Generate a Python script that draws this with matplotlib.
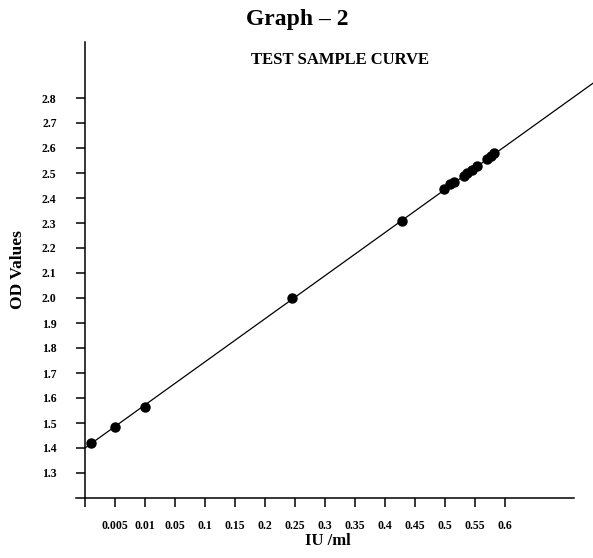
import numpy as np
import matplotlib

matplotlib.use("Agg")
import matplotlib.pyplot as plt

# x axis is not linear: each listed concentration sits one step apart
TICK_VALUES = [0, 0.005, 0.01, 0.05, 0.1, 0.15, 0.2, 0.25, 0.3, 0.35, 0.4, 0.45, 0.5, 0.55, 0.6]
TICK_LABELS = ["", "0.005", "0.01", "0.05", "0.1", "0.15", "0.2", "0.25", "0.3", "0.35",
               "0.4", "0.45", "0.5", "0.55", "0.6"]
Y_TICKS = [1.3, 1.4, 1.5, 1.6, 1.7, 1.8, 1.9, 2.0, 2.1, 2.2, 2.3, 2.4, 2.5, 2.6, 2.7, 2.8]

# test samples (IU/ml, OD)
sample_conc = [0.001, 0.005, 0.01, 0.245, 0.428, 0.499, 0.508, 0.515, 0.531, 0.537,
               0.545, 0.553, 0.570, 0.576, 0.582]
sample_od = [1.42, 1.485, 1.565, 2.0, 2.31, 2.437, 2.457, 2.466, 2.49, 2.50,
             2.514, 2.527, 2.556, 2.57, 2.58]

# fitted line, in axis steps
fit_steps = [0.0, 17.5]
fit_od = [1.40, 2.908]

FONT = "Liberation Serif"

W, H = 593, 558
fig = plt.figure(figsize=(W / 100, H / 100), dpi=100)
ax = fig.add_axes([76 / W, 60 / H, (W - 76) / W, (498 - 42) / H])

steps = np.arange(len(TICK_VALUES))
sample_x = np.interp(sample_conc, TICK_VALUES, steps)

ax.plot(fit_steps, fit_od, color="black", linewidth=0.9)
ax.plot(sample_x, sample_od, "o", color="black", markersize=6.5, linestyle="none")

ax.set_xlim(-0.3, (W - 85) / 30)
ax.set_ylim(1.2, 3.024)

ax.spines["top"].set_visible(False)
ax.spines["right"].set_visible(False)
ax.spines["left"].set_position(("data", 0))
ax.spines["bottom"].set_bounds(-0.3, 16.3)
for side in ("left", "bottom"):
    ax.spines[side].set_linewidth(1.1)

ax.set_xticks(steps)
ax.set_xticklabels(TICK_LABELS)
ax.set_yticks(Y_TICKS)
ax.set_yticklabels([f"{v:.1f}" for v in Y_TICKS])
ax.tick_params(axis="x", direction="out", length=6.5, width=1.1, pad=9)
ax.tick_params(axis="y", direction="out", length=6.5, width=1.1, pad=14)
for lab in ax.get_xticklabels() + ax.get_yticklabels():
    lab.set_fontfamily(FONT)
    lab.set_fontweight("bold")
    lab.set_fontsize(8.5)

fig.text(297 / W, 1 - 19 / H, "Graph \u2013 2", ha="center", va="center",
         fontfamily=FONT, fontweight="bold", fontsize=17)
fig.text(340 / W, 1 - 60 / H, "TEST SAMPLE CURVE", ha="center", va="center",
         fontfamily=FONT, fontweight="bold", fontsize=12)
fig.text(328 / W, 1 - 541 / H, "IU /ml", ha="center", va="center",
         fontfamily=FONT, fontweight="bold", fontsize=12)
fig.text(18 / W, 1 - 270 / H, "OD Values", ha="center", va="center", rotation=90,
         fontfamily=FONT, fontweight="bold", fontsize=12.5)

fig.savefig("out.png", dpi=100)
